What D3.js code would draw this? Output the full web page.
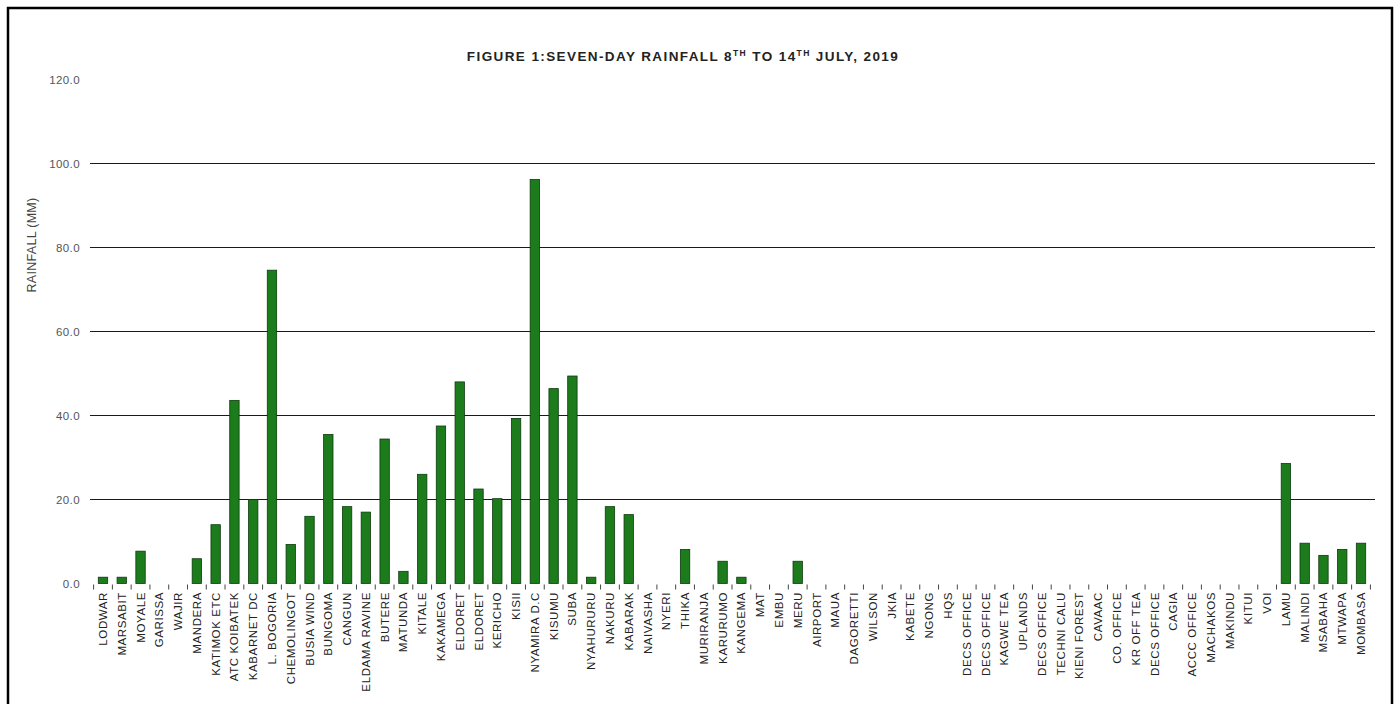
<!DOCTYPE html>
<html>
<head>
<meta charset="utf-8">
<script src="https://cdn.jsdelivr.net/npm/d3@7"></script>
<style>
  body { margin: 0; background: #fff; }
  svg { display: block; font-family: "Liberation Sans", Arial, sans-serif; }
</style>
</head>
<body>
<div id="chart"></div>
<script>
// Station names, left to right
const stations = [
  "LODWAR", "MARSABIT", "MOYALE", "GARISSA", "WAJIR", "MANDERA",
  "KATIMOK ETC", "ATC KOIBATEK", "KABARNET DC", "L. BOGORIA", "CHEMOLINGOT",
  "BUSIA WIND", "BUNGOMA", "CANGUN", "ELDAMA RAVINE", "BUTERE", "MATUNDA",
  "KITALE", "KAKAMEGA", "ELDORET", "ELDORET", "KERICHO", "KISII",
  "NYAMIRA D.C", "KISUMU", "SUBA", "NYAHURURU", "NAKURU", "KABARAK",
  "NAIVASHA", "NYERI", "THIKA", "MURIRANJA", "KARURUMO", "KANGEMA", "MAT",
  "EMBU", "MERU", "AIRPORT", "MAUA", "DAGORETTI", "WILSON", "JKIA",
  "KABETE", "NGONG", "HQS", "DECS OFFICE", "DECS OFFICE", "KAGWE TEA",
  "UPLANDS", "DECS OFFICE", "TECHNI CALU", "KIENI FOREST", "CAVAAC",
  "CO. OFFICE", "KR OFF TEA", "DECS OFFICE", "CAGIA", "ACCC OFFICE",
  "MACHAKOS", "MAKINDU", "KITUI", "VOI", "LAMU", "MALINDI", "MSABAHA",
  "MTWAPA", "MOMBASA"
];

// Seven-day rainfall (mm)
const rainfall = [
  1.5, 1.5, 7.7, 0, 0, 5.9,
  14.0, 43.6, 20.0, 74.6, 9.3,
  16.0, 35.5, 18.3, 17.0, 34.4, 2.9,
  26.0, 37.5, 48.0, 22.5, 20.2, 39.3,
  96.2, 46.4, 49.4, 1.5, 18.3, 16.4,
  0, 0, 8.1, 0, 5.3, 1.5, 0,
  0, 5.3, 0, 0, 0, 0, 0,
  0, 0, 0, 0, 0, 0,
  0, 0, 0, 0, 0,
  0, 0, 0, 0, 0,
  0, 0, 0, 0, 28.6, 9.6, 6.7,
  8.1, 9.6
];

const yTicks = [0, 20, 40, 60, 80, 100, 120];
const gridValues = [20, 40, 60, 80, 100];

const width = 1399, height = 704;

const svg = d3.select("#chart")
  .append("svg")
  .attr("width", width)
  .attr("height", height);

// Frame round the figure
svg.append("rect")
  .attr("x", 8).attr("y", 8)
  .attr("width", 1384).attr("height", 720)
  .attr("fill", "none")
  .attr("stroke", "#000")
  .attr("stroke-width", 2.5);

const data = stations.map((s, i) => ({ id: i, name: s, value: rainfall[i] }));

const x = d3.scaleBand()
  .domain(data.map(d => d.id))
  .range([93.6, 1370.4])
  .paddingInner(0.5)
  .paddingOuter(0.25);

const y = d3.scaleLinear()
  .domain([0, 120])
  .range([583.5, 79.5]);

// Gridlines
svg.append("g")
  .selectAll("line")
  .data(gridValues)
  .enter()
  .append("line")
  .attr("x1", 90).attr("x2", 1375)
  .attr("y1", d => y(d)).attr("y2", d => y(d))
  .attr("stroke", "#1a1a1a")
  .attr("stroke-width", 1.2);

// Y axis labels
svg.append("g")
  .selectAll("text")
  .data(yTicks)
  .enter()
  .append("text")
  .attr("x", 80)
  .attr("y", d => y(d))
  .attr("dy", "0.35em")
  .attr("text-anchor", "end")
  .attr("font-size", 11.5)
  .attr("letter-spacing", 0.4)
  .attr("fill", "#555")
  .text(d => d.toFixed(1));

// Y axis title
svg.append("text")
  .attr("transform", "translate(36,245) rotate(-90)")
  .attr("text-anchor", "middle")
  .attr("font-size", 12.5)
  .attr("letter-spacing", 0.3)
  .attr("fill", "#444")
  .text("RAINFALL (MM)");

// Chart title with superscripts
const title = svg.append("text")
  .attr("x", 683)
  .attr("y", 61)
  .attr("text-anchor", "middle")
  .attr("font-size", 13.5)
  .attr("font-weight", "bold")
  .attr("letter-spacing", 1.4)
  .attr("fill", "#222");
title.append("tspan").text("FIGURE 1:SEVEN-DAY RAINFALL 8");
title.append("tspan").attr("font-size", 8.5).attr("dy", -5).text("TH");
title.append("tspan").attr("dy", 5).text(" TO 14");
title.append("tspan").attr("font-size", 8.5).attr("dy", -5).text("TH");
title.append("tspan").attr("dy", 5).text(" JULY, 2019");

// Bars
svg.append("g")
  .selectAll("rect")
  .data(data.filter(d => d.value > 0))
  .enter()
  .append("rect")
  .attr("x", d => x(d.id))
  .attr("y", d => y(d.value))
  .attr("width", x.bandwidth())
  .attr("height", d => y(0) - y(d.value))
  .attr("fill", "#1c7c1c")
  .attr("stroke", "#0e3a0e")
  .attr("stroke-width", 0.8);

// Category tick marks between bars
const step = x.step();
const boundaries = d3.range(data.length + 1).map(i => 93.6 + i * step);
svg.append("g")
  .selectAll("line")
  .data(boundaries)
  .enter()
  .append("line")
  .attr("x1", d => d).attr("x2", d => d)
  .attr("y1", y(0) + 1).attr("y2", y(0) + 6)
  .attr("stroke", "#444")
  .attr("stroke-width", 1);

// Station labels, rotated
svg.append("g")
  .selectAll("text")
  .data(data)
  .enter()
  .append("text")
  .attr("transform", d => `translate(${x(d.id) + x.bandwidth() / 2},592) rotate(-90)`)
  .attr("text-anchor", "end")
  .attr("dy", "0.35em")
  .attr("font-size", 11.5)
  .attr("letter-spacing", 0.6)
  .attr("fill", "#222")
  .text(d => d.name);
</script>
</body>
</html>
